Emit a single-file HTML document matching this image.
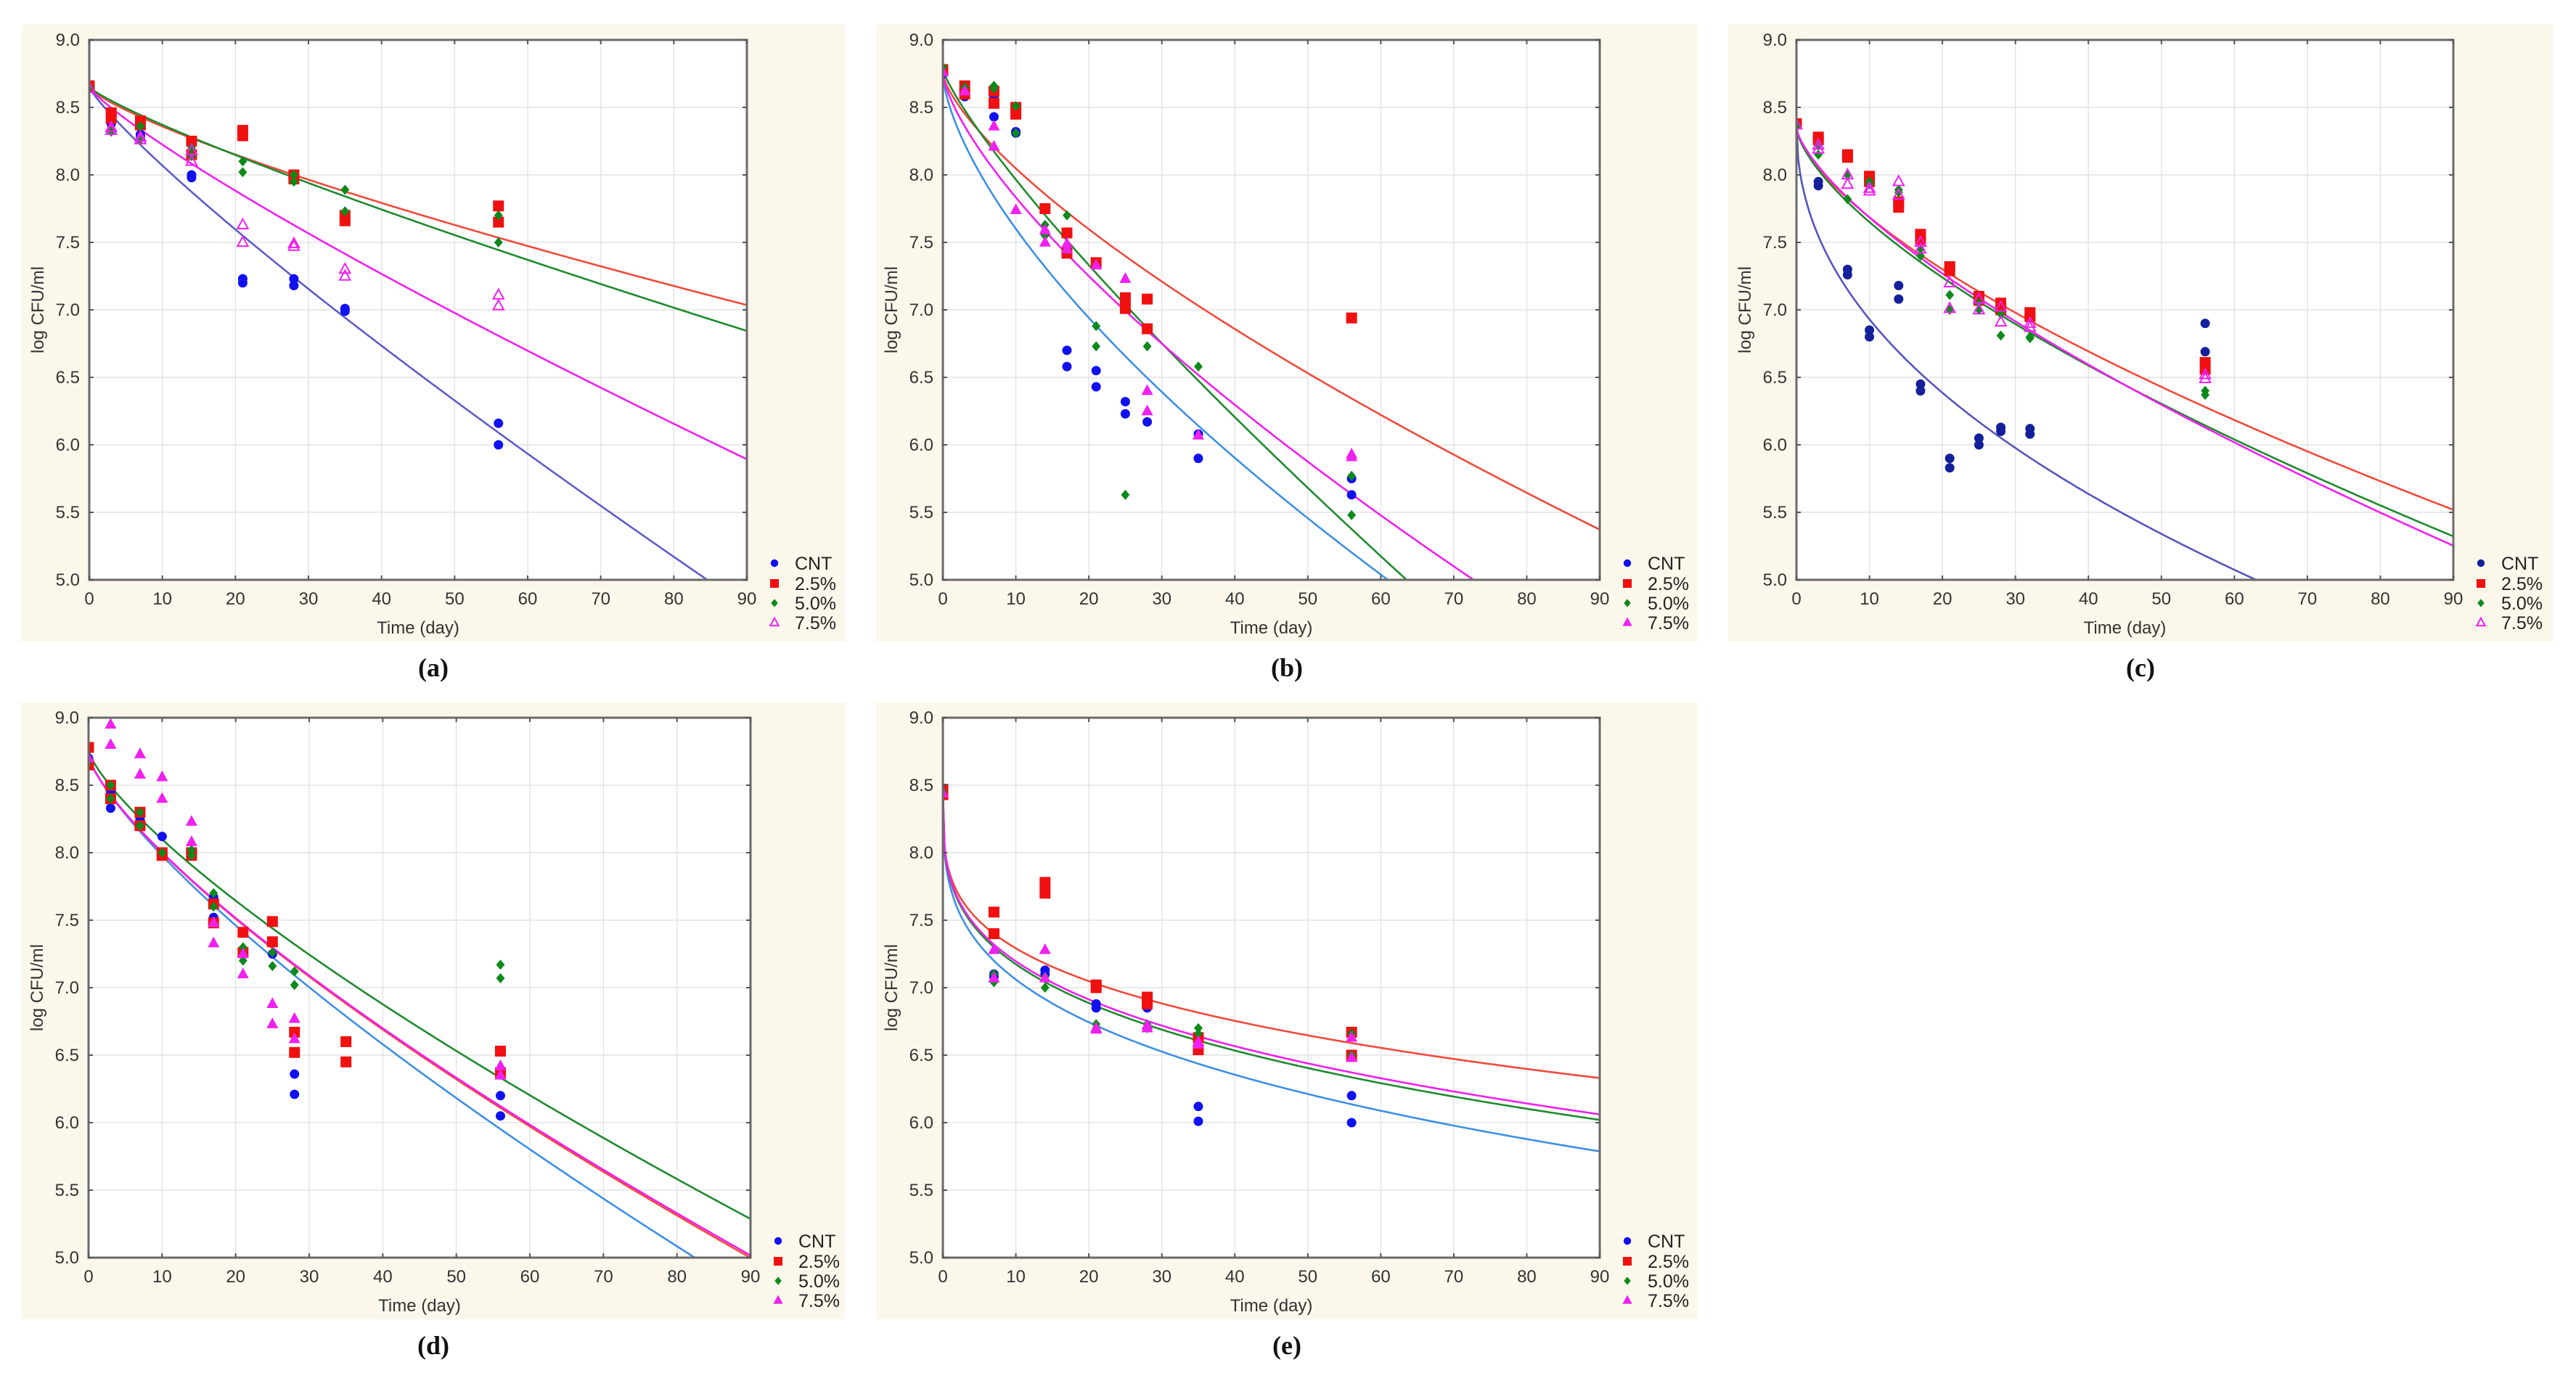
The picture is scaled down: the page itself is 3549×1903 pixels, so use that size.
<!DOCTYPE html>
<html><head><meta charset="utf-8">
<style>
html,body{margin:0;padding:0;background:#fff;}
svg{display:block;font-family:"Liberation Sans",Arial,sans-serif;}
</style></head>
<body>
<svg id="fig" width="3549" height="1903" viewBox="0 0 3549 1903" xmlns="http://www.w3.org/2000/svg"></svg>
<script>
// ---------- data ----------
const seriesNames = ["CNT", "2.5%", "5.0%", "7.5%"];
const xTicks = [0,10,20,30,40,50,60,70,80,90];
const yTicks = [5.0,5.5,6.0,6.5,7.0,7.5,8.0,8.5,9.0];
const yTickLabels = ["5.0","5.5","6.0","6.5","7.0","7.5","8.0","8.5","9.0"];

// Panel (a)
const aCNT = [[0,8.65],[3,8.40],[3,8.38],[7,8.30],[7,8.28],[14,8.00],[14,7.98],[21,7.23],[21,7.20],[28,7.23],[28,7.18],[35,7.01],[35,6.99],[56,6.16],[56,6.00]];
const a25 = [[0,8.66],[3,8.46],[3,8.42],[7,8.40],[7,8.37],[14,8.25],[14,8.15],[21,8.33],[21,8.29],[28,8.00],[28,7.97],[35,7.70],[35,7.66],[56,7.77],[56,7.65]];
const a50 = [[0,8.65],[3,8.35],[3,8.32],[7,8.36],[7,8.26],[14,8.20],[14,8.14],[21,8.10],[21,8.02],[28,8.00],[28,7.95],[35,7.89],[35,7.73],[56,7.70],[56,7.50]];
const a75 = [[0,8.64],[3,8.33],[3,8.35],[7,8.28],[7,8.26],[14,8.10],[14,8.18],[21,7.63],[21,7.50],[28,7.49],[28,7.47],[35,7.30],[35,7.25],[56,7.11],[56,7.03]];
const aY0 = [8.65, 8.65, 8.65, 8.65];
const aDelta = [18.8, 48.7, 44.9, 27.3];
const aShape = [0.861, 0.78, 0.85, 0.85];

// Panel (b)
const bCNT = [[0,8.75],[3,8.58],[3,8.62],[7,8.57],[7,8.43],[10,8.31],[10,8.32],[14,7.57],[17,6.70],[17,6.58],[21,6.55],[21,6.43],[25,6.32],[25,6.23],[28,6.17],[35,6.08],[35,5.90],[56,5.75],[56,5.63]];
const b25 = [[0,8.78],[3,8.66],[3,8.60],[7,8.62],[7,8.53],[10,8.50],[10,8.45],[14,7.75],[17,7.57],[17,7.42],[21,7.35],[25,7.09],[25,7.01],[28,7.08],[28,6.86],[56,6.94]];
const b50 = [[0,8.80],[3,8.65],[7,8.66],[7,8.64],[10,8.51],[10,8.31],[14,7.63],[14,7.55],[17,7.70],[17,7.45],[21,6.88],[21,6.73],[25,5.63],[28,6.73],[35,6.58],[56,5.77],[56,5.48]];
const b75 = [[0,8.76],[3,8.62],[7,8.36],[7,8.21],[10,7.74],[14,7.59],[14,7.50],[17,7.49],[17,7.45],[21,7.33],[25,7.23],[28,6.40],[28,6.25],[35,6.07],[56,5.93],[56,5.91]];
const bY0 = [8.75, 8.75, 8.78, 8.75];
const bDelta = [8.08, 16.4, 12.8, 11.3];
const bShape = [0.654, 0.715, 0.83, 0.71];

// Panel (c)
const cCNT = [[0,8.38],[3,7.95],[3,7.92],[7,7.30],[7,7.26],[10,6.85],[10,6.80],[14,7.18],[14,7.08],[17,6.45],[17,6.40],[21,5.90],[21,5.83],[25,6.05],[25,6.00],[28,6.13],[28,6.10],[32,6.12],[32,6.08],[56,6.90],[56,6.69]];
const c25 = [[0,8.38],[3,8.28],[3,8.26],[7,8.15],[7,8.13],[10,7.99],[10,7.95],[14,7.80],[14,7.76],[17,7.56],[17,7.52],[21,7.32],[21,7.29],[25,7.10],[25,7.07],[28,7.05],[28,7.00],[32,6.98],[32,6.95],[56,6.61],[56,6.56]];
const c50 = [[0,8.36],[3,8.15],[3,8.22],[7,7.82],[7,8.00],[10,7.95],[10,7.93],[14,7.89],[14,7.87],[17,7.40],[17,7.45],[21,7.11],[21,7.00],[25,7.05],[25,7.00],[28,6.97],[28,6.81],[32,6.80],[32,6.79],[56,6.40],[56,6.37]];
const c75 = [[0,8.37],[3,8.22],[3,8.19],[7,8.00],[7,7.93],[10,7.90],[10,7.88],[14,7.95],[14,7.85],[17,7.50],[17,7.45],[21,7.20],[21,7.01],[25,7.08],[25,7.00],[28,7.02],[28,6.91],[32,6.90],[32,6.87],[56,6.52],[56,6.49]];
const cY0 = [8.38, 8.35, 8.35, 8.35];
const cDelta = [4.46, 18.6, 17.1, 17.9];
const cShape = [0.46, 0.66, 0.667, 0.70];

// Panel (d)
const dCNT = [[0,8.70],[3,8.45],[3,8.33],[7,8.27],[7,8.25],[10,8.12],[14,8.00],[17,7.67],[17,7.52],[21,7.27],[25,7.25],[28,6.36],[28,6.21],[56,6.20],[56,6.05]];
const d25 = [[0,8.78],[0,8.65],[3,8.50],[3,8.40],[7,8.30],[7,8.20],[10,8.00],[10,7.98],[14,8.00],[14,7.98],[17,7.62],[17,7.48],[21,7.41],[21,7.26],[25,7.49],[25,7.34],[28,6.67],[28,6.52],[35,6.60],[35,6.45],[56,6.53],[56,6.37]];
const d50 = [[0,8.68],[3,8.50],[3,8.40],[7,8.30],[7,8.20],[10,8.00],[14,8.02],[14,7.98],[17,7.70],[17,7.60],[21,7.30],[21,7.20],[25,7.26],[25,7.16],[28,7.12],[28,7.02],[56,7.17],[56,7.07]];
const d75 = [[0,8.70],[3,8.95],[3,8.80],[7,8.73],[7,8.58],[10,8.56],[10,8.40],[14,8.23],[14,8.08],[17,7.48],[17,7.33],[21,7.25],[21,7.10],[25,6.88],[25,6.73],[28,6.77],[28,6.62],[56,6.42],[56,6.35]];
const dY0 = [8.72, 8.72, 8.76, 8.72];
const dDelta = [14.8, 15.5, 17.3, 15.6];
const dShape = [0.765, 0.747, 0.755, 0.747];

// Panel (e)
const eCNT = [[0,8.45],[7,7.10],[7,7.08],[14,7.13],[14,7.10],[21,6.88],[21,6.85],[28,6.85],[35,6.12],[35,6.01],[56,6.20],[56,6.00]];
const e25 = [[0,8.47],[0,8.43],[7,7.56],[7,7.40],[14,7.78],[14,7.70],[21,7.02],[21,7.00],[28,6.93],[28,6.88],[35,6.63],[35,6.54],[56,6.67],[56,6.50]];
const e50 = [[0,8.45],[7,7.10],[7,7.04],[14,7.08],[14,7.00],[21,6.73],[21,6.70],[28,6.73],[28,6.70],[35,6.70],[35,6.66],[56,6.66],[56,6.50]];
const e75 = [[0,8.44],[7,7.28],[7,7.07],[14,7.28],[14,7.07],[21,6.70],[21,6.69],[28,6.72],[28,6.70],[35,6.60],[35,6.58],[56,6.63],[56,6.48]];
const eY0 = [8.45, 8.45, 8.45, 8.45];
const eDelta = [3.29, 5.86, 4.35, 4.61];
const eShape = [0.296, 0.275, 0.293, 0.293];

// ---------- layout ----------
const NS = "http://www.w3.org/2000/svg";
const svg = document.getElementById('fig');
function mk(tag, attrs, parent){
  const el = document.createElementNS(NS, tag);
  for (const k in attrs) el.setAttribute(k, attrs[k]);
  (parent||svg).appendChild(el);
  return el;
}

const panels = [
  {id:"a", bg:[30,34,1164,884], pl:[123,55,1029,799], data:[aCNT,a25,a50,a75], y0:aY0, dl:aDelta, sh:aShape,
   lineCols:["#5d5dc8","#f04a3c","#1e8a2e","#f020f0"], cntCol:"#1010f0", triOpen:true},
  {id:"b", bg:[1207,34,2339,884], pl:[1299,55,2204,799], data:[bCNT,b25,b50,b75], y0:bY0, dl:bDelta, sh:bShape,
   lineCols:["#3d8fe6","#f04a3c","#1e8a2e","#f020f0"], cntCol:"#1010f0", triOpen:false},
  {id:"c", bg:[2381,34,3517,884], pl:[2475,55,3380,799], data:[cCNT,c25,c50,c75], y0:cY0, dl:cDelta, sh:cShape,
   lineCols:["#5555c0","#f04a3c","#1e8a2e","#f020f0"], cntCol:"#14209a", triOpen:true},
  {id:"d", bg:[30,968,1164,1818], pl:[122,989,1034,1733], data:[dCNT,d25,d50,d75], y0:dY0, dl:dDelta, sh:dShape,
   lineCols:["#3d8fe6","#f04a3c","#1e8a2e","#f020f0"], cntCol:"#1010f0", triOpen:false},
  {id:"e", bg:[1207,968,2339,1818], pl:[1299,989,2204,1733], data:[eCNT,e25,e50,e75], y0:eY0, dl:eDelta, sh:eShape,
   lineCols:["#3d8fe6","#f04a3c","#1e8a2e","#f020f0"], cntCol:"#1010f0", triOpen:false}
];
const seriesKeys = ["cnt","2-5","5-0","7-5"];

function marker(g, type, cx, cy, color, open, scale){
  const s = scale||1;
  let el;
  if (type===0){ el = mk('circle',{cx:cx,cy:cy,r:6.5*s,fill:color},g); }
  else if (type===1){ el = mk('rect',{x:cx-7.5*s,y:cy-7.5*s,width:15*s,height:15*s,fill:"#f01010"},g); }
  else if (type===2){ const r=7*s; el = mk('polygon',{points:`${cx},${cy-r} ${cx+r*0.85},${cy} ${cx},${cy+r} ${cx-r*0.85},${cy}`,fill:"#0b8a1a"},g); }
  else { const r=8*s;
    el = mk('polygon',{points:`${cx},${cy-r} ${cx+r*0.9},${cy+r*0.65} ${cx-r*0.9},${cy+r*0.65}`,
      fill: open?"none":"#f020f0", stroke:"#f020f0","stroke-width": open?2:1},g); }
  return el;
}

panels.forEach(p=>{
  const g = mk('g',{});
  
  
  const [bx0,by0,bx1,by1] = p.bg;
  const [L,T,R,B] = p.pl;
  const X = t => L + (t/90)*(R-L);
  const Y = v => B - ((v-5)/4)*(B-T);
  const bg = mk('rect',{x:bx0,y:by0,width:bx1-bx0,height:by1-by0,fill:"#fcf7eb"},g);
  
  
  const pa = mk('rect',{x:L,y:T,width:R-L,height:B-T,fill:"#ffffff"},g);
  
  
  xTicks.forEach(t=>{ if(t>0&&t<90){ const l=mk('line',{x1:X(t),x2:X(t),y1:T,y2:B,stroke:"#e4e4e4","stroke-width":1.5},g);
      }});
  yTicks.forEach(v=>{ if(v>5&&v<9){ const l=mk('line',{x1:L,x2:R,y1:Y(v),y2:Y(v),stroke:"#e4e4e4","stroke-width":1.5},g);
      }});
  const cp = mk('clipPath',{id:'clip-'+p.id},g);
  mk('rect',{x:L,y:T,width:R-L,height:B-T},cp);
  const cg = mk('g',{'clip-path':`url(#clip-${p.id})`},g);
  for (let s=0;s<4;s++){
    let d="";
    for (let i=0;i<=360;i++){
      const t = i*0.25;
      const v = p.y0[s] - Math.pow(t/p.dl[s], p.sh[s]);
      d += (i===0?"M":"L")+X(t).toFixed(1)+","+Y(v).toFixed(1);
    }
    const path = mk('path',{d:d,fill:"none",stroke:p.lineCols[s],"stroke-width":2.6},cg);
    
    
  }
  for (let s=0;s<4;s++){
    const sg = mk('g',{},cg);
    
    
    p.data[s].forEach(pt=>{
      const m = marker(sg, s, X(pt[0]), Y(pt[1]), p.cntCol, p.triOpen, 1);
      
      
    });
  }
  const fr = mk('rect',{x:L,y:T,width:R-L,height:B-T,fill:"none",stroke:"#6a6a6a","stroke-width":3},g);
  
  
  xTicks.forEach(t=>{
    mk('line',{x1:X(t),x2:X(t),y1:B,y2:B-6,stroke:"#555","stroke-width":2},g);
    mk('line',{x1:X(t),x2:X(t),y1:T,y2:T+6,stroke:"#555","stroke-width":2},g);
    const tx = mk('text',{x:X(t),y:B+34,"text-anchor":"middle","font-size":24,fill:"#333"},g);
    tx.textContent = t;
    
    
  });
  yTicks.forEach((v,i)=>{
    mk('line',{x1:L,x2:L+6,y1:Y(v),y2:Y(v),stroke:"#555","stroke-width":2},g);
    mk('line',{x1:R,x2:R-6,y1:Y(v),y2:Y(v),stroke:"#555","stroke-width":2},g);
    const tx = mk('text',{x:L-13,y:Y(v)+8,"text-anchor":"end","font-size":24,fill:"#333"},g);
    tx.textContent = yTickLabels[i];
    
    
  });
  const xt = mk('text',{x:(L+R)/2,y:B+74,"text-anchor":"middle","font-size":24,fill:"#333"},g);
  xt.textContent = "Time (day)";
  
  
  const yc = (T+B)/2;
  const yt = mk('text',{x:L-63,y:yc,"text-anchor":"middle","font-size":24,fill:"#333",transform:`rotate(-90 ${L-63} ${yc})`},g);
  yt.textContent = "log CFU/ml";
  
  
  const lg = mk('g',{},g);
  
  
  const rows=[-23,5,32,59];
  for (let s=0;s<4;s++){
    const cy = B+rows[s];
    marker(lg, s, R+38, cy, p.cntCol, p.triOpen, 0.8);
    const lt = mk('text',{x:R+66,y:cy+9,"font-size":25,fill:"#222"},lg);
    lt.textContent = seriesNames[s];
    
    
  }
  const pl = mk('text',{x:(bx0+bx1)/2,y:B+133,"text-anchor":"middle","font-size":36,"font-weight":"bold",
    "font-family":"'Liberation Serif',serif",fill:"#111"},g);
  pl.textContent = "("+p.id+")";
  
  
});
</script>
</body></html>
